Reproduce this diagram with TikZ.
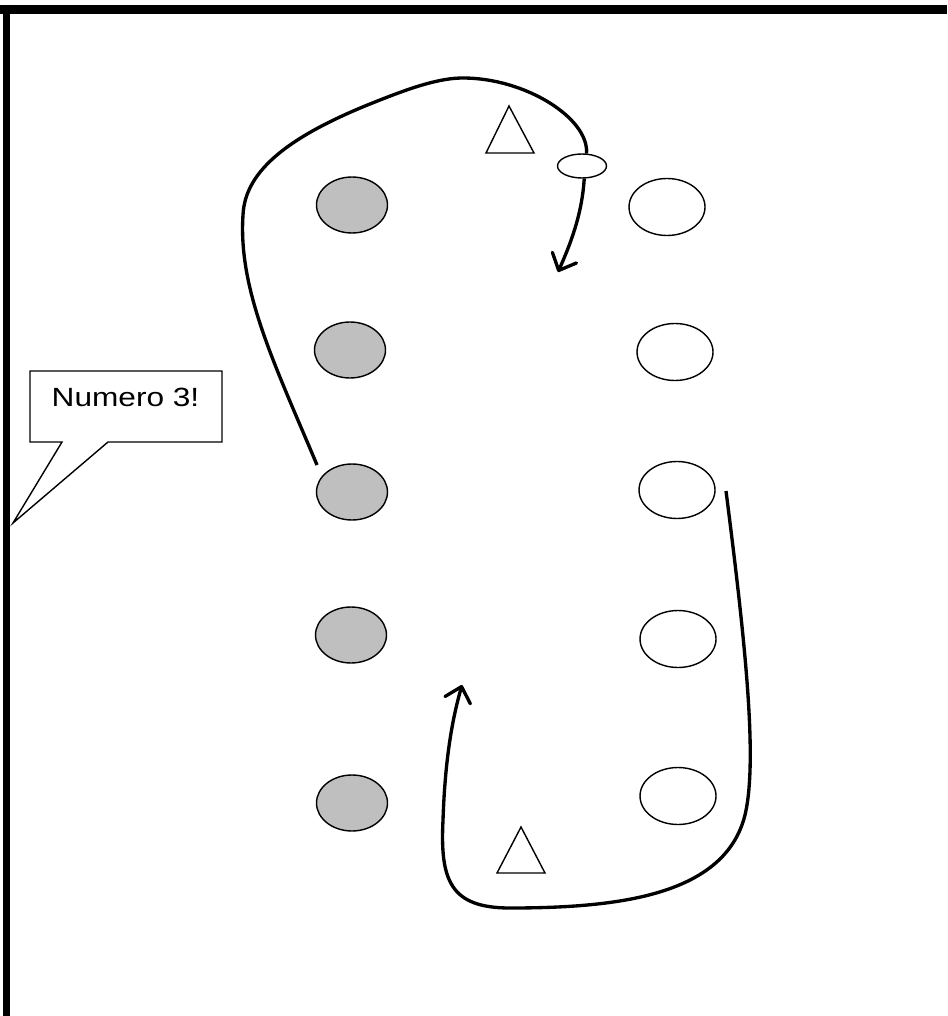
\documentclass[tikz,border=0pt]{standalone}
\usepackage{fontspec}
\setmainfont{Liberation Sans}
\usetikzlibrary{shapes.geometric,arrows.meta}

\begin{document}
\begin{tikzpicture}[
    x=0.02cm, y=-0.02cm,
    greyplayer/.style={ellipse, draw, line width=0.8pt, fill=black!25, inner sep=0pt, minimum width=1.42cm, minimum height=1.12cm},
    whiteplayer/.style={ellipse, draw, line width=0.8pt, fill=white, inner sep=0pt, minimum width=1.52cm, minimum height=1.14cm},
    ballnode/.style={ellipse, draw, line width=0.8pt, fill=white, inner sep=0pt, minimum width=0.98cm, minimum height=0.48cm},
    cone/.style={draw, line width=0.8pt, fill=white, line join=miter},
    run/.style={line width=1.9pt},
    arrow/.style={run, -{Straight Barb[length=8pt, width=15pt, round]}}
]
    \useasboundingbox (0,0) rectangle (947,1016);

    % field border
    \draw [line width=0.18cm] (0,9.5) -- (947,9.5);
    \draw [line width=0.14cm] (6.7,5) -- (6.7,1016);

    % players
    \node [greyplayer] (g1) at (352,205) {};
    \node [greyplayer] (g2) at (350,350) {};
    \node [greyplayer] (g3) at (352,492) {};
    \node [greyplayer] (g4) at (351,635) {};
    \node [greyplayer] (g5) at (352,803) {};

    \node [whiteplayer] (w1) at (667,207) {};
    \node [whiteplayer] (w2) at (675,352) {};
    \node [whiteplayer] (w3) at (677,490) {};
    \node [whiteplayer] (w4) at (678,639) {};
    \node [whiteplayer] (w5) at (678,796) {};

    % cones
    \draw [cone] (486,153) -- (509,106) -- (534,153) -- cycle;
    \draw [cone] (497,873) -- (521,827) -- (545,873) -- cycle;

    % runs
    \coordinate (start) at (317,465);
    \coordinate (tip) at (558,272);
    \node [ballnode] (ball) at (582,166) {};
    \draw [run] (start) .. controls (275,365) and (238,290) .. (243,215)
        .. controls (245,170) and (290,135) .. (380,100)
        .. controls (413,87) and (440,78) .. (463,78)
        .. controls (525,78) and (589,118) .. (ball.70);
    \draw [arrow] (ball.-80) .. controls (582,215) and (570,245) .. (tip);

    \coordinate (back) at (726,491);
    \coordinate (tip2) at (462,685);
    \draw [arrow] (back) .. controls (745,640) and (758,760) .. (745,815)
        .. controls (725,895) and (620,908) .. (510,908)
        .. controls (450,908) and (440,880) .. (443,820)
        .. controls (445,760) and (452,720) .. (tip2);

    % callout
    \draw [line width=0.8pt, fill=white, line join=miter] (30,371) -- (222,371) -- (222,442) -- (108,442)
        -- (13,523) -- (62,442) -- (30,442) -- cycle;
    \node [font=\fontsize{15}{17}\selectfont] (numero) at (125.5,397.5) {\scalebox{1.2}[1]{Numero 3!}};
\end{tikzpicture}
\end{document}
